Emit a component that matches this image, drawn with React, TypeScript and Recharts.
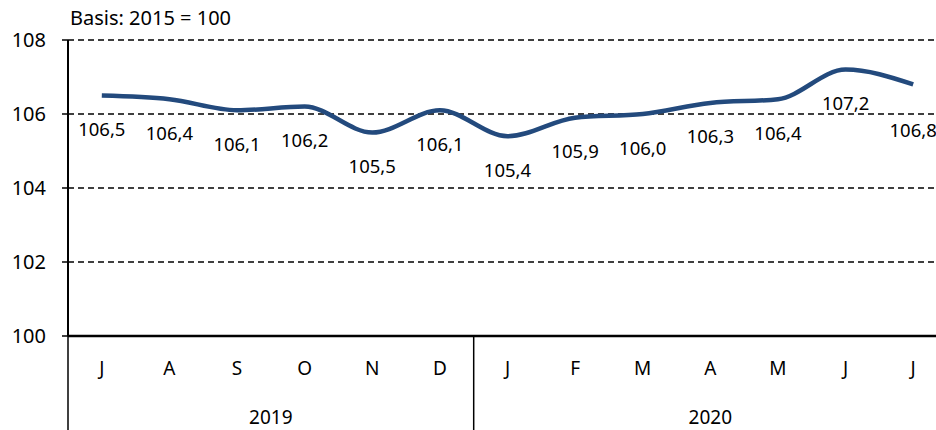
import React from 'react';
import { LineChart, Line, XAxis, YAxis, CartesianGrid, LabelList } from 'recharts';

const months = ['J', 'A', 'S', 'O', 'N', 'D', 'J', 'F', 'M', 'A', 'M', 'J', 'J'];
const values = [106.5, 106.4, 106.1, 106.2, 105.5, 106.1, 105.4, 105.9, 106.0, 106.3, 106.4, 107.2, 106.8];
const yTicks = [100, 102, 104, 106, 108];
const years = ['2019', '2020'];
const yearCenters = [2.5, 9];
const yearBounds = [-0.5, 5.5, 12.5];
const basisText = 'Basis: 2015 = 100';

const data = months.map((m, i) => ({ m, i, v: values[i] }));
const monthIdx = months.map((_, i) => i);

const FONT = '"Noto Sans", sans-serif';
const W = 960;
const H = 430;
const MARGIN = { top: 40, right: 13, bottom: 0, left: 0 };
const MONTH_AXIS_H = 50;
const YEAR_AXIS_H = 44;
const PLOT_BOTTOM = H - MONTH_AXIS_H - YEAR_AXIS_H;
const LABEL_OFFSET = 33;
const LAST_LABEL_EXTRA = 12;

const MonthTick = (props: any) => {
  const { x, y, payload } = props;
  return (
    <text x={x} y={y + 32} textAnchor="middle" dominantBaseline="central" fontSize={19} fill="#000" fontFamily={FONT}>
      {months[payload.value]}
    </text>
  );
};

const YearTick = (props: any) => {
  const { x, y, payload } = props;
  const v = payload.value;
  if (yearBounds.includes(v)) {
    return <line x1={x} x2={x} y1={PLOT_BOTTOM} y2={H} stroke="#000" strokeWidth={1.5} />;
  }
  const idx = yearCenters.indexOf(v);
  return (
    <text x={x} y={y + 31} textAnchor="middle" dominantBaseline="central" fontSize={19} fill="#000" fontFamily={FONT}>
      {years[idx]}
    </text>
  );
};

const ValueLabel = (props: any) => {
  const { x, y, value, index } = props;
  const off = LABEL_OFFSET + (index === values.length - 1 ? LAST_LABEL_EXTRA : 0);
  return (
    <text x={x} y={y + off} textAnchor="middle" dominantBaseline="central" fontSize={18.5} fill="#000" fontFamily={FONT}>
      {Number(value).toFixed(1).replace('.', ',')}
    </text>
  );
};

export default function App() {
  return (
    <div style={{ position: 'absolute', left: 0, top: 0, width: 936, height: 430, overflow: 'hidden', background: '#fff' }}>
      <div style={{ position: 'absolute', left: 70, top: 5, fontFamily: FONT, fontSize: 20, color: '#000', whiteSpace: 'nowrap', lineHeight: '26px' }}>
        {basisText}
      </div>
      <LineChart width={W} height={H} data={data} margin={MARGIN}>
        <CartesianGrid horizontal vertical={false} stroke="#000" strokeDasharray="6 4" strokeWidth={1.5} />
        <XAxis
          dataKey="i"
          xAxisId={0}
          type="number"
          domain={[-0.5, 12.5]}
          ticks={monthIdx}
          allowDataOverflow
          height={MONTH_AXIS_H}
          axisLine={{ stroke: '#000', strokeWidth: 2.5 }}
          tickLine={false}
          tickSize={0}
          tickMargin={0}
          interval={0}
          tick={<MonthTick />}
        />
        <XAxis
          dataKey="i"
          xAxisId="yr"
          type="number"
          domain={[-0.5, 12.5]}
          ticks={[...yearBounds, ...yearCenters]}
          allowDataOverflow
          height={YEAR_AXIS_H}
          axisLine={false}
          tickLine={false}
          tickSize={0}
          tickMargin={0}
          interval={0}
          tick={<YearTick />}
        />
        <YAxis
          width={68}
          domain={[100, 108]}
          ticks={yTicks}
          interval={0}
          axisLine={{ stroke: '#000', strokeWidth: 2 }}
          tickLine={{ stroke: '#000', strokeWidth: 1.5 }}
          tickSize={6}
          tickMargin={16}
          tick={{ fill: '#000', fontSize: 20, fontFamily: FONT }}
        />
        <Line
          type="monotone"
          dataKey="v"
          stroke="#234a7d"
          strokeWidth={4.5}
          dot={false}
          isAnimationActive={false}
        >
          <LabelList dataKey="v" content={<ValueLabel />} />
        </Line>
      </LineChart>
    </div>
  );
}
